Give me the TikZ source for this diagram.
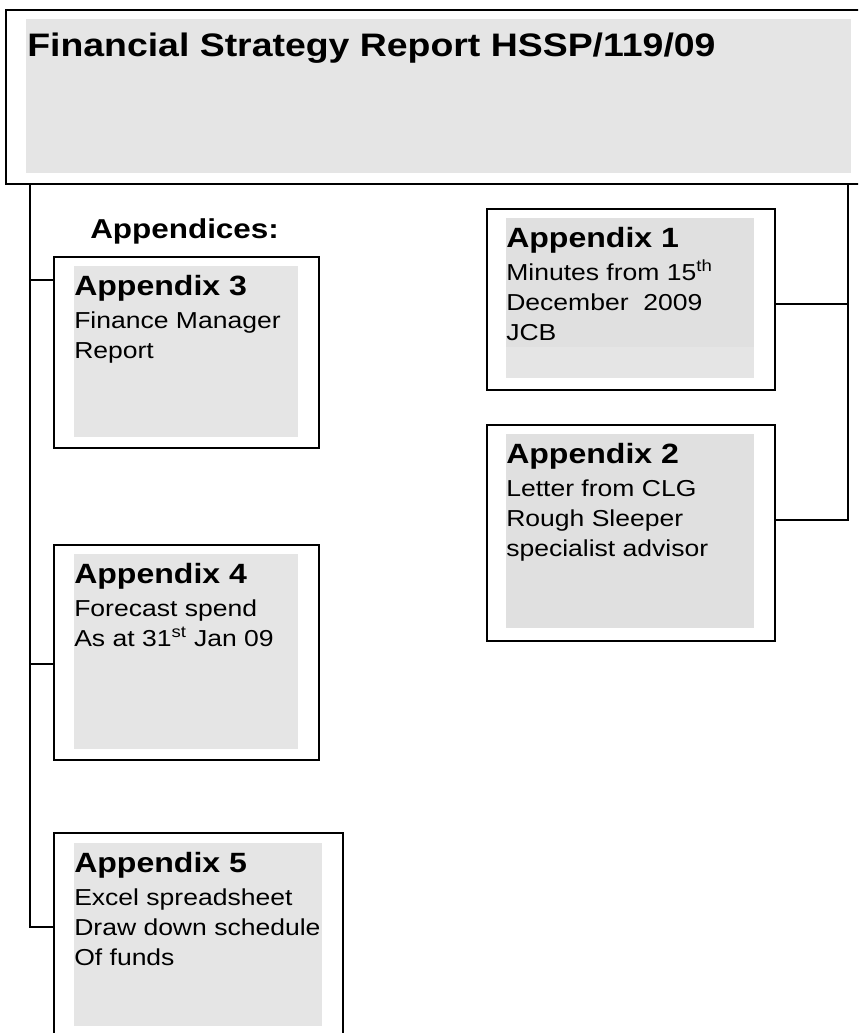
\documentclass[tikz,border=0pt]{standalone}
\usepackage{fontspec}
\setmainfont{Liberation Sans}[FakeStretch=1.15]
\usetikzlibrary{calc, positioning}
\newlength{\pxu}
\setlength{\pxu}{0.75pt}

\begin{document}
\begin{tikzpicture}[x=0.75pt, y=-0.75pt,
    apxframe/.style={draw, line width=1.8pt, fill=white, inner sep=0pt, anchor=north west},
    greyfill/.style={fill=gray!20, inner sep=0pt, anchor=north west},
    head/.style={font=\bfseries\fontsize{20.9}{25}\selectfont, anchor=base west, inner sep=0pt},
    body/.style={font=\fontsize{17.3}{22.5}\selectfont, anchor=north west, inner sep=0pt, align=left},
    link/.style={line width=1.5pt}]

    \clip (0,0) rectangle (858,1033);

    % =================================================================
    % 1. TITLE BOX
    % =================================================================
    \node[apxframe, minimum width=870\pxu, minimum height=174\pxu] (title) at (5,9) {};
    \node[greyfill, minimum width=825\pxu, minimum height=154\pxu] (titlebg) at (26,19) {};
    \node[font=\bfseries\fontsize{24.4}{29}\selectfont, anchor=base west, inner sep=0pt]
        (titletxt) at (27,56) {Financial Strategy Report HSSP/119/09};

    \node[font=\bfseries\fontsize{20.5}{25}\selectfont, anchor=base west, inner sep=0pt]
        (apxlist) at (90,238) {Appendices:};

    % =================================================================
    % 2. LEFT COLUMN: APPENDIX 3, 4, 5
    % =================================================================
    % body text starts with a strut: first baseline 21px under the node top
    \node[apxframe, minimum width=265\pxu, minimum height=191\pxu] (app3) at (53,256) {};
    \node[greyfill, minimum width=224\pxu, minimum height=171\pxu] (g3) at (74,266) {};
    \node[head] (h3) at ($(g3.north west)+(0,29)$) {Appendix 3};
    \node[body] (b3) at ($(h3.base west)+(0,12)$) {\strut Finance Manager\\Report};

    \node[apxframe, minimum width=265\pxu, minimum height=215\pxu] (app4) at (53,544) {};
    \node[greyfill, minimum width=224\pxu, minimum height=195\pxu] (g4) at (74,554) {};
    \node[head] (h4) at ($(g4.north west)+(0,29)$) {Appendix 4};
    \node[body] (b4) at ($(h4.base west)+(0,12)$) {\strut Forecast spend\\As at 31\textsuperscript{st} Jan 09};

    \node[apxframe, minimum width=289\pxu, minimum height=215\pxu] (app5) at (53,832) {};
    \node[greyfill, minimum width=248\pxu, minimum height=183\pxu] (g5) at (74,843) {};
    \node[head] (h5) at ($(g5.north west)+(0,29)$) {Appendix 5};
    \node[body] (b5) at ($(h5.base west)+(0,12)$) {\strut Excel spreadsheet\\Draw down schedule\\Of funds};

    % =================================================================
    % 3. RIGHT COLUMN: APPENDIX 1, 2
    % =================================================================
    \node[apxframe, minimum width=288\pxu, minimum height=181\pxu] (app1) at (486,208) {};
    \node[greyfill, minimum width=248\pxu, minimum height=160\pxu] (g1low) at (506,218) {};
    \node[greyfill, fill=gray!24, minimum width=248\pxu, minimum height=129\pxu] (g1) at (g1low.north west) {};
    \node[head] (h1) at ($(g1.north west)+(0,29)$) {Appendix 1};
    \node[body] (b1) at ($(h1.base west)+(0,12)$) {\strut Minutes from 15\textsuperscript{th}\\December~ 2009\\JCB};

    \node[apxframe, minimum width=288\pxu, minimum height=216\pxu] (app2) at (486,424) {};
    \node[greyfill, fill=gray!24, minimum width=248\pxu, minimum height=194\pxu] (g2) at (506,434) {};
    \node[head] (h2) at ($(g2.north west)+(0,29)$) {Appendix 2};
    \node[body] (b2) at ($(h2.base west)+(0,12)$) {\strut Letter from CLG\\Rough Sleeper\\specialist advisor};

    % =================================================================
    % 4. CONNECTORS
    % =================================================================
    \path (title.south west) ++(25,0) coordinate (ltop);
    \path (title.south east) ++(-29,0) coordinate (rtop);
    \path (app3.north west) ++(0,24) coordinate (in3);
    \path (app4.north west) ++(0,120) coordinate (in4);
    \path (app5.north west) ++(0,95) coordinate (in5);
    \path (app1.north east) ++(0,96) coordinate (in1);
    \path (app2.north east) ++(0,96) coordinate (in2);

    \draw[link] (ltop) |- (in5);
    \draw[link] (ltop |- in3) -- (in3);
    \draw[link] (ltop |- in4) -- (in4);
    \draw[link] (rtop) |- (in2);
    \draw[link] (rtop |- in1) -- (in1);

\end{tikzpicture}
\end{document}
